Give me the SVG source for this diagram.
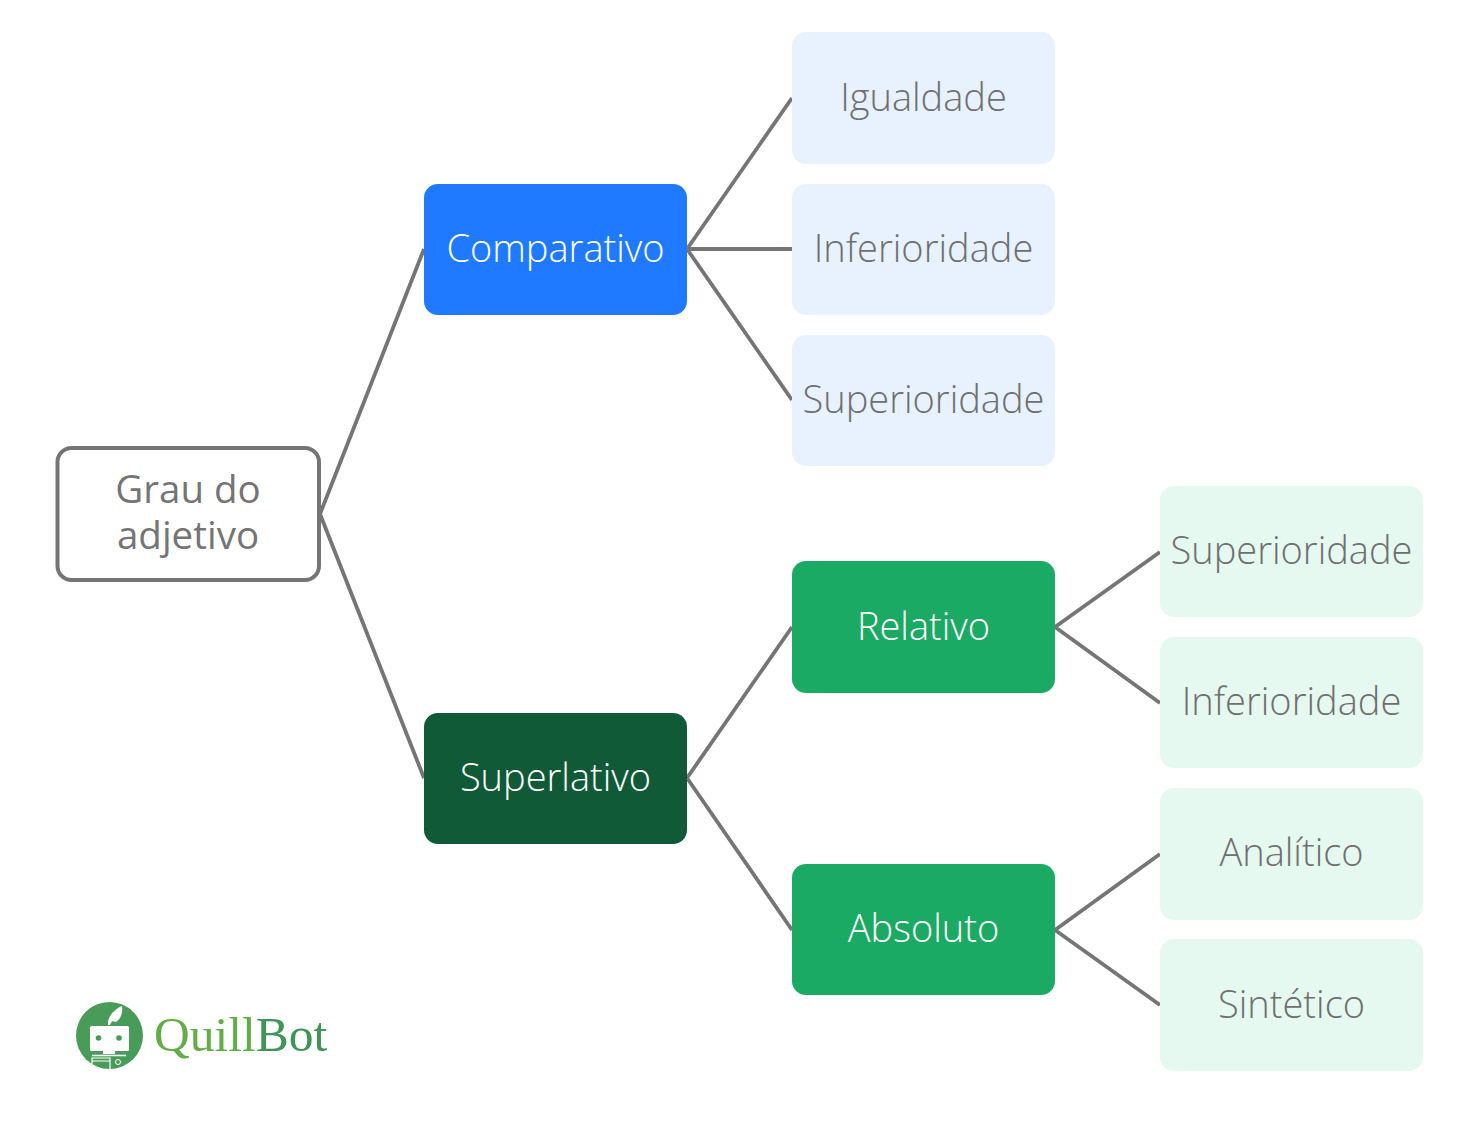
<svg xmlns="http://www.w3.org/2000/svg" width="1480" height="1146" viewBox="0 0 1480 1146">
<style>
text{font-family:"Open Sans","Noto Sans",sans-serif;font-size:38px;font-weight:300;text-anchor:middle;fill:#6f6f6f}
text.w{fill:#fff}
text.r{font-weight:400;font-size:38.500px;fill:#757575}
.c path{fill:none;stroke:#757575;stroke-width:3.8}
.lb{fill:#e8f2ff}.lg{fill:#e6f9f1}
text.logo{font-family:"Liberation Serif",serif;font-size:49.500px;font-weight:400;text-anchor:start;fill:#62ad48}
</style>
<rect width="1480" height="1146" fill="#fff"/>
<g id="connectors" class="c">
<path d="M320 514L424 249M320 514L424 778"/>
<path d="M687 249L792 98M687 249H792M687 249L792 400"/>
<path d="M687 778L792 627M687 778L792 930"/>
<path d="M1055 627L1160 552M1055 627L1160 703"/>
<path d="M1055 930L1160 854M1055 930L1160 1005"/>
</g>
<g id="root"><rect x="57.500" y="448" width="261.500" height="132" rx="14" fill="#fff" stroke="#757575" stroke-width="4"/><text class="r" x="188" y="503">Grau do</text><text class="r" x="188" y="549">adjetivo</text></g>
<g id="comparativo"><rect x="424" y="184" width="263" height="131" rx="14" fill="#1f7aff"/><text class="w" x="555.500" y="262">Comparativo</text></g>
<g id="superlativo"><rect x="424" y="713" width="263" height="131" rx="14" fill="#105a38"/><text class="w" x="555.500" y="791">Superlativo</text></g>
<g id="relativo"><rect x="792" y="561" width="263" height="132" rx="14" fill="#1aaa64"/><text class="w" x="923.500" y="640">Relativo</text></g>
<g id="absoluto"><rect x="792" y="864" width="263" height="131" rx="14" fill="#1aaa64"/><text class="w" x="923.500" y="942">Absoluto</text></g>
<g id="igualdade"><rect class="lb" x="792" y="32" width="263" height="132" rx="14"/><text x="923.500" y="111">Igualdade</text></g>
<g id="inferioridade1"><rect class="lb" x="792" y="184" width="263" height="131" rx="14"/><text x="923.500" y="262">Inferioridade</text></g>
<g id="superioridade1"><rect class="lb" x="792" y="335" width="263" height="131" rx="14"/><text x="923.500" y="413">Superioridade</text></g>
<g id="superioridade2"><rect class="lg" x="1160" y="486" width="263" height="131" rx="14"/><text x="1291.500" y="564">Superioridade</text></g>
<g id="inferioridade2"><rect class="lg" x="1160" y="637" width="263" height="131" rx="14"/><text x="1291.500" y="715">Inferioridade</text></g>
<g id="analitico"><rect class="lg" x="1160" y="788" width="263" height="132" rx="14"/><text x="1291.500" y="866">Analítico</text></g>
<g id="sintetico"><rect class="lg" x="1160" y="939" width="263" height="132" rx="14"/><text x="1291.500" y="1018">Sintético</text></g>
<g id="logo">
<circle cx="109.500" cy="1035.500" r="33.500" fill="#499b59"/>
<path d="M108 1025C107 1018 113 1010 122 1006C123 1012 121 1019 116 1022L112 1021L110 1025Z" fill="#fff"/>
<rect x="90" y="1026" width="39" height="25" rx="1.500" fill="#fff"/>
<circle cx="98.500" cy="1038" r="2.800" fill="#499b59"/><circle cx="119" cy="1038" r="2.800" fill="#499b59"/>
<rect x="103" y="1051" width="12" height="3" fill="#fff"/>
<path d="M92 1069V1058H110V1069M92 1061H110" fill="none" stroke="#fff" stroke-width="1.200"/>
<path d="M92 1055.500H126" fill="none" stroke="#fff" stroke-width="1.500"/>
<circle cx="118" cy="1062" r="2.500" fill="none" stroke="#fff"/>
<text class="logo" x="154" y="1051">Quill<tspan style="fill:#3f9458">Bot</tspan></text>
</g>
</svg>
